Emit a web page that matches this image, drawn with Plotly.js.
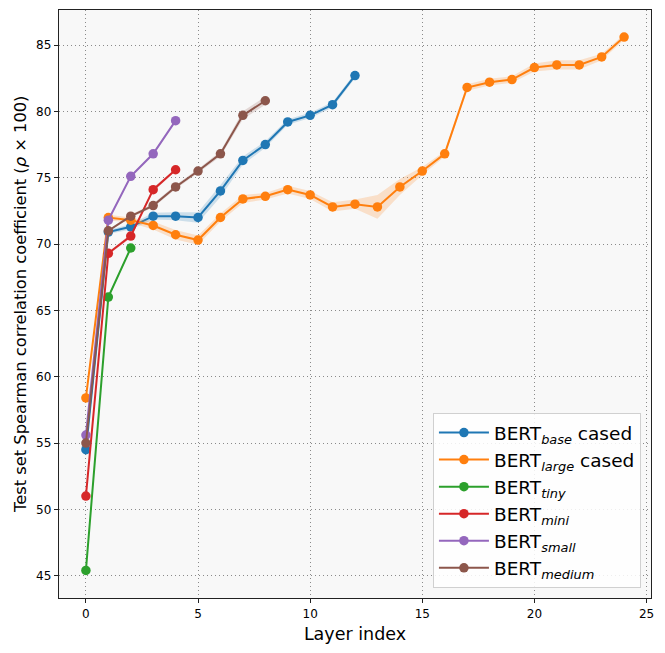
<!DOCTYPE html>
<html>
<head>
<meta charset="utf-8">
<script src="https://cdn.plot.ly/plotly-3.0.1.min.js"></script>
<style>
  html, body { margin: 0; padding: 0; background: #fff; }
  #chart { width: 665px; height: 653px; }
</style>
</head>
<body>
<div id="chart"></div>
<script>
// mean score per layer
const baseCased  = [54.5, 70.9, 71.3, 72.1, 72.1, 72.0, 74.0, 76.3, 77.5, 79.2, 79.7, 80.5, 82.7];
const largeCased = [58.4, 72.0, 71.8, 71.4, 70.7, 70.3, 72.0, 73.4, 73.6, 74.1, 73.7, 72.8, 73.0,
                    72.8, 74.3, 75.5, 76.8, 81.8, 82.2, 82.4, 83.3, 83.5, 83.5, 84.1, 85.6];
const tiny   = [45.4, 66.0, 69.7];
const mini   = [51.0, 69.3, 70.6, 74.1, 75.6];
const small  = [55.6, 71.8, 75.1, 76.8, 79.3];
const medium = [55.0, 71.0, 72.1, 72.9, 74.3, 75.5, 76.8, 79.7, 80.8];

// half width of the shaded band per layer
const baseSpread  = [0.15, 0.15, 0.2, 0.25, 0.3, 0.4, 0.45, 0.3, 0.25, 0.2, 0.2, 0.2, 0.2];
const largeSpread = [0.15, 0.2, 0.2, 0.3, 0.35, 0.35, 0.3, 0.3, 0.25, 0.3, 0.3, 0.35, 0.35,
                     0.9, 0.6, 0.3, 0.2, 0.25, 0.25, 0.25, 0.3, 0.35, 0.35, 0.25, 0.2];
const tinySpread   = [0.1, 0.1, 0.1];
const miniSpread   = [0.1, 0.1, 0.15, 0.15, 0.1];
const smallSpread  = [0.1, 0.1, 0.1, 0.1, 0.1];
const mediumSpread = [0.1, 0.1, 0.1, 0.15, 0.15, 0.15, 0.2, 0.3, 0.3];

const series = [
    { name: 'BERT<sub><i>base</i></sub> cased',  y: baseCased,  s: baseSpread,   color: '#1f77b4', fill: 'rgba(31,119,180,0.2)' },
    { name: 'BERT<sub><i>large</i></sub> cased', y: largeCased, s: largeSpread,  color: '#ff7f0e', fill: 'rgba(255,127,14,0.2)' },
    { name: 'BERT<sub><i>tiny</i></sub>',        y: tiny,       s: tinySpread,   color: '#2ca02c', fill: 'rgba(44,160,44,0.2)' },
    { name: 'BERT<sub><i>mini</i></sub>',        y: mini,       s: miniSpread,   color: '#d62728', fill: 'rgba(214,39,40,0.2)' },
    { name: 'BERT<sub><i>small</i></sub>',       y: small,      s: smallSpread,  color: '#9467bd', fill: 'rgba(148,103,189,0.2)' },
    { name: 'BERT<sub><i>medium</i></sub>',      y: medium,     s: mediumSpread, color: '#8c564b', fill: 'rgba(140,86,75,0.2)' }
];

const traces = [];
series.forEach(function (d) {
    const layers = d.y.map(function (v, i) { return i; });
    const upper = d.y.map(function (v, i) { return v + d.s[i]; });
    const lower = d.y.map(function (v, i) { return v - d.s[i]; });
    traces.push({
        x: layers.concat(layers.slice().reverse()),
        y: upper.concat(lower.slice().reverse()),
        type: 'scatter',
        mode: 'lines',
        fill: 'toself',
        fillcolor: d.fill,
        line: { width: 0, color: d.fill },
        hoverinfo: 'skip',
        showlegend: false
    });
    traces.push({
        x: layers,
        y: d.y,
        type: 'scatter',
        mode: 'lines+markers',
        name: d.name,
        line: { color: d.color, width: 2 },
        marker: { color: d.color, size: 9.5 }
    });
});

const axisCommon = {
    showline: true,
    mirror: true,
    linecolor: '#222',
    linewidth: 1.2,
    ticks: 'outside',
    ticklen: 4,
    tickcolor: '#222',
    showgrid: true,
    gridcolor: '#8a8a8a',
    griddash: '1px,3px',
    gridwidth: 1,
    zeroline: false,
    tickfont: { size: 12, color: '#000' }
};

const layout = {
    width: 665,
    height: 653,
    margin: { l: 59, r: 14, t: 10, b: 55 },
    paper_bgcolor: '#ffffff',
    plot_bgcolor: '#f8f8f8',
    font: { family: 'DejaVu Sans, sans-serif', color: '#000' },
    showlegend: true,
    legend: {
        x: 0.983, y: 0.017,
        xanchor: 'right', yanchor: 'bottom',
        bgcolor: 'rgba(255,255,255,0.85)',
        bordercolor: '#d0d0d0',
        borderwidth: 1,
        font: { size: 18.5 },
        itemwidth: 50
    },
    xaxis: Object.assign({}, axisCommon, {
        range: [-1.2, 25.2],
        tickvals: [0, 5, 10, 15, 20, 25],
        title: { text: 'Layer index', font: { size: 17.5 }, standoff: 8 }
    }),
    yaxis: Object.assign({}, axisCommon, {
        range: [43.32, 87.64],
        tickvals: [45, 50, 55, 60, 65, 70, 75, 80, 85]
    }),
    annotations: [{
        text: 'Test set Spearman correlation coefficient (<i>ρ</i> × 100)',
        xref: 'paper', yref: 'paper',
        x: -0.066, y: 0.5,
        xanchor: 'center', yanchor: 'middle',
        textangle: -90,
        showarrow: false,
        font: { size: 16.3 }
    }]
};

Plotly.newPlot('chart', traces, layout, { displayModeBar: false, staticPlot: true });
</script>
</body>
</html>
